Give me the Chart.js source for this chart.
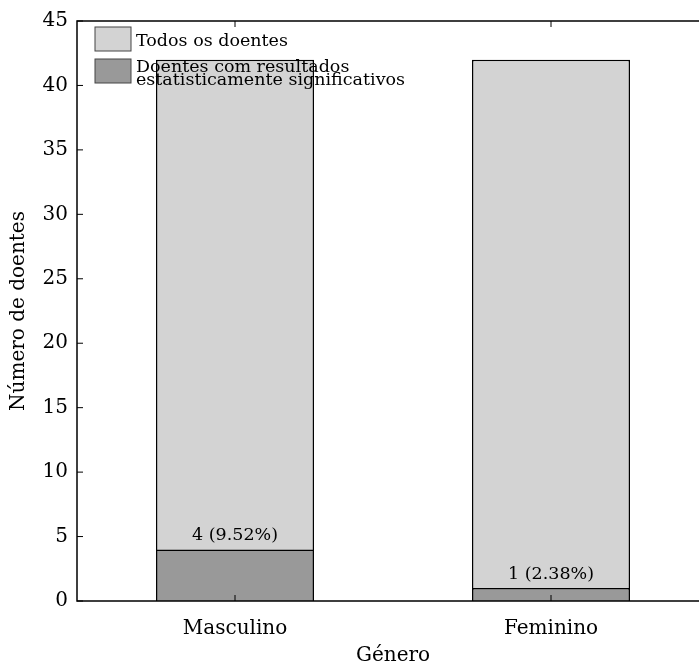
<!DOCTYPE html>
<html>
<head>
<meta charset="utf-8">
<script src="https://cdn.jsdelivr.net/npm/chart.js@4"></script>
<style>
  html, body { margin: 0; padding: 0; background: #fff; overflow: hidden; }
  #wrap { width: 699px; height: 668px; overflow: hidden; position: relative; }
  #box { width: 720px; height: 668px; }
</style>
</head>
<body>
<div id="wrap"><div id="box"><canvas id="myChart"></canvas></div></div>
<script>
let categories = ['Masculino', 'Feminino'];
let totals = [42, 42];
let significant = [4, 1];
let seriesNames = ['Todos os doentes', 'Doentes com resultados\nestatisticamente significativos'];
let colors = ['#d3d3d3', '#999999'];

let font = "'DejaVu Serif', serif";

// frame, inward ticks, legend and bar labels
let decor = {
	id: 'decor',
	afterDatasetsDraw(chart) {
		let ctx = chart.ctx;
		let a = chart.chartArea;
		let x = chart.scales.x, y = chart.scales.y;
		ctx.save();
		ctx.strokeStyle = '#000';
		ctx.lineWidth = 1.5;
		ctx.beginPath();
		ctx.moveTo(a.right + 20, a.top); ctx.lineTo(a.left, a.top);
		ctx.lineTo(a.left, a.bottom); ctx.lineTo(a.right + 20, a.bottom);
		ctx.stroke();
		ctx.lineWidth = 1;
		y.ticks.forEach(t => {
			let py = y.getPixelForValue(t.value);
			ctx.beginPath(); ctx.moveTo(a.left, py); ctx.lineTo(a.left + 6, py); ctx.stroke();
		});
		categories.forEach((c, i) => {
			let px = x.getPixelForValue(i);
			ctx.beginPath(); ctx.moveTo(px, a.top); ctx.lineTo(px, a.top + 6); ctx.stroke();
			ctx.beginPath(); ctx.moveTo(px, a.bottom); ctx.lineTo(px, a.bottom - 6); ctx.stroke();
		});

		// labels over the dark bars
		ctx.fillStyle = '#000';
		ctx.font = '17.5px ' + font;
		ctx.textAlign = 'center';
		ctx.textBaseline = 'bottom';
		significant.forEach((v, i) => {
			let pct = (v / totals[i] * 100).toFixed(2);
			ctx.fillText(v + ' (' + pct + '%)', x.getPixelForValue(i), y.getPixelForValue(v) - 5);
		});

		// legend
		let lx = a.left + 18, ly = a.top + 6;
		ctx.textAlign = 'left';
		ctx.textBaseline = 'alphabetic';
		ctx.font = '17.5px ' + font;
		chart.data.datasets.forEach((ds, i) => {
			let by = ly + i * 32;
			ctx.fillStyle = ds.backgroundColor;
			ctx.fillRect(lx, by, 36, 24);
			ctx.strokeStyle = '#444';
			ctx.lineWidth = 1;
			ctx.strokeRect(lx, by, 36, 24);
			ctx.fillStyle = '#000';
			let lines = seriesNames[i].split('\n');
			if (lines.length === 1) {
				ctx.fillText(lines[0], lx + 41, by + 19);
			} else {
				lines.forEach((l, k) => ctx.fillText(l, lx + 41, by + 13 + k * 13));
			}
		});
		ctx.restore();
	}
};

let myChart = document.getElementById('myChart').getContext('2d');

let chart = new Chart(myChart, {
	type: 'bar',
	data: {
		labels: categories,
		datasets: [
			{
				label: 'Todos os doentes',
				data: totals,
				backgroundColor: colors[0],
				borderColor: '#000',
				borderWidth: 1.5,
				order: 2
			},
			{
				label: 'Doentes com resultados estatisticamente significativos',
				data: significant,
				backgroundColor: colors[1],
				borderColor: '#000',
				borderWidth: 1.5,
				order: 1
			}
		]
	},
	options: {
		responsive: true,
		maintainAspectRatio: false,
		animation: false,
		grouped: false,
		barPercentage: 0.5,
		categoryPercentage: 1,
		layout: { padding: { top: 19, right: 11, left: 0, bottom: 0 } },
		plugins: {
			legend: { display: false },
			tooltip: { enabled: false }
		},
		scales: {
			x: {
				grid: { display: false, drawTicks: false },
				border: { display: false },
				ticks: { color: '#000', font: { family: font, size: 20 }, padding: 16 },
				title: { display: true, text: 'Género', color: '#000', font: { family: font, size: 20 }, padding: 0 },
				afterFit(s) { s.height = 67; }
			},
			y: {
				min: 0,
				max: 45,
				grid: { display: false, drawTicks: false },
				border: { display: false },
				ticks: { stepSize: 5, color: '#000', font: { family: font, size: 20 }, padding: 9 },
				title: { display: true, text: 'Número de doentes', color: '#000', font: { family: font, size: 20 }, padding: { top: 7 } },
				afterFit(s) { s.width = 77; }
			}
		}
	},
	plugins: [decor]
});
</script>
</body>
</html>
